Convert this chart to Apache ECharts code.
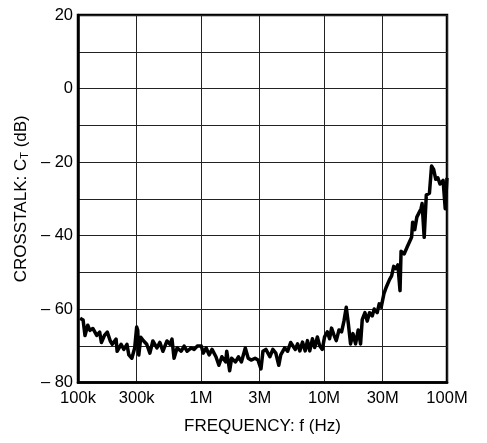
<!DOCTYPE html>
<html>
<head>
<meta charset="utf-8">
<script src="https://cdn.jsdelivr.net/npm/echarts@6/dist/echarts.min.js"></script>
<style>html,body{margin:0;padding:0;background:#fff}#c{width:487px;height:443px}</style>
</head>
<body>
<div id="c"></div>
<script>
// Frequency (Hz) and crosstalk (dB)
const freqHz = [
  104e3,110e3,114e3,120e3,125e3,132e3,142e3,150e3,155e3,164e3,173e3,183e3,190e3,204e3,208e3,224e3,236e3,250e3,259e3,274e3,289e3,
  300e3,306e3,312e3,324e3,342e3,362e3,384e3,406e3,438e3,463e3,490e3,529e3,560e3,581e3,604e3,639e3,689e3,729e3,772e3,833e3,881e3,932e3,
  1.006e6,1.043e6,1.102e6,1.164e6,1.230e6,1.323e6,1.398e6,1.477e6,1.589e6,1.619e6,1.710e6,1.774e6,1.908e6,2.016e6,2.130e6,2.292e6,2.421e6,2.557e6,2.752e6,2.908e6,
  3.073e6,3.189e6,3.371e6,3.630e6,3.837e6,4.056e6,4.290e6,4.451e6,4.792e6,5.066e6,5.356e6,
  5.558e6,5.842e6,6.097e6,6.362e6,6.688e6,7.032e6,7.339e6,7.659e6,8.051e6,8.401e6,8.831e6,9.215e6,9.687e6,
  10.11e6,10.64e6,11.10e6,11.52e6,12.06e6,12.58e6,13.24e6,13.90e6,14.53e6,15.17e6,15.75e6,16.44e6,17.20e6,18.05e6,18.98e6,19.83e6,
  20.46e6,21.52e6,22.46e6,23.45e6,24.66e6,25.60e6,27.07e6,28.11e6,29.18e6,
  30.72e6,32.13e6,34.09e6,35.46e6,36.88e6,38.36e6,39.89e6,41.50e6,42.32e6,44.89e6,47.63e6,51.53e6,52.55e6,54.66e6,56.85e6,
  61.52e6,62.74e6,65.25e6,67.87e6,69.21e6,71.99e6,74.88e6,77.89e6,81.01e6,84.26e6,87.66e6,92.98e6,96.72e6,100e6
];
const crosstalkDb = [
  -62.5,-63.0,-67.2,-64.4,-65.8,-65.3,-67.2,-66.3,-69.1,-67.2,-66.3,-68.7,-69.6,-68.2,-71.5,-69.6,-71.0,-69.6,-72.5,-73.4,-70.6,
  -64.9,-65.8,-72.5,-67.7,-68.7,-69.6,-72.0,-68.7,-70.6,-69.1,-71.5,-68.7,-69.6,-68.2,-73.4,-70.6,-71.5,-70.1,-71.5,-70.6,-71.0,-70.1,
  -70.1,-72.0,-70.6,-72.5,-71.0,-73.0,-75.3,-73.0,-74.4,-71.5,-76.8,-73.4,-74.4,-73.0,-74.4,-70.6,-73.4,-73.9,-73.4,-73.9,
  -76.3,-71.5,-71.0,-73.0,-71.0,-72.0,-75.3,-72.5,-70.6,-71.5,-69.1,
  -69.5,-71.0,-69.5,-71.4,-69.0,-71.4,-68.6,-71.4,-68.1,-70.5,-67.6,-70.0,-71.0,
  -67.6,-66.2,-68.1,-65.2,-67.1,-68.6,-65.7,-66.2,-63.3,-59.5,-63.8,-69.5,-66.7,-69.5,-65.7,-69.5,
  -62.9,-61.0,-63.3,-61.0,-61.9,-60.0,-61.0,-58.6,-59.5,
  -55.8,-54.0,-52.0,-51.0,-48.4,-49.0,-48.0,-55.0,-44.3,-45.0,-43.0,-40.5,-36.4,-38.4,-35.0,
  -32.7,-31.3,-40.5,-29.0,-29.5,-28.5,-21.1,-22.0,-24.7,-24.3,-26.0,-25.0,-32.7,-24.3
];
const xTickValues = [1e5, 3e5, 1e6, 3e6, 1e7, 3e7, 1e8];
const xTickLabels = ['100k', '300k', '1M', '3M', '10M', '30M', '100M'];
const yMin = -80, yMax = 20, yStep = 10, yLabelStep = 20;

const points = freqHz.map((f, i) => [f, crosstalkDb[i]]);
const FONT = 'Liberation Sans';

const chart = echarts.init(document.getElementById('c'), null, {renderer: 'canvas'});
chart.setOption({
  animation: false,
  backgroundColor: '#fff',
  grid: {left: 78, right: 40, top: 15, bottom: 60.5, show: true, borderColor: '#000', borderWidth: 2.5, backgroundColor: 'transparent'},
  xAxis: {
    type: 'log', logBase: 10, min: 1e5, max: 1e8,
    name: 'FREQUENCY: f (Hz)', nameLocation: 'middle', nameGap: 35,
    nameTextStyle: {fontFamily: FONT, fontSize: 17, color: '#000'},
    axisLine: {show: true, onZero: false, lineStyle: {color: '#000', width: 2.5}},
    axisTick: {show: false, customValues: xTickValues},
    axisLabel: {
      customValues: xTickValues,
      fontFamily: FONT, fontSize: 16.5, color: '#000', margin: 7,
      formatter: function (v) {
        for (let i = 0; i < xTickValues.length; i++) {
          if (Math.abs(Math.log10(v) - Math.log10(xTickValues[i])) < 1e-6) return xTickLabels[i];
        }
        return '';
      }
    },
    splitLine: {show: true, lineStyle: {color: '#222', width: 1}},
    minorTick: {show: false}
  },
  yAxis: {
    type: 'value', min: yMin, max: yMax, interval: yStep,
    name: 'CROSSTALK: C{sub|T} (dB)', nameLocation: 'middle', nameGap: 44, nameRotate: 90,
    nameTextStyle: {fontFamily: FONT, fontSize: 17, color: '#000', rich: {sub: {fontFamily: FONT, fontSize: 11, color: '#000', verticalAlign: 'bottom', padding: [5, 0, 0, 0]}}},
    axisLine: {show: true, onZero: false, lineStyle: {color: '#000', width: 2.5}},
    axisTick: {show: false},
    axisLabel: {
      fontFamily: FONT, fontSize: 16.5, color: '#000', margin: 5,
      formatter: function (v) {
        if (Math.round(v) % yLabelStep !== 0) return '';
        return v < 0 ? '\u2013 ' + Math.abs(v) : String(v);
      }
    },
    splitLine: {show: true, lineStyle: {color: '#222', width: 1}}
  },
  series: [{
    type: 'line', data: points, symbol: 'none', smooth: false,
    lineStyle: {color: '#000', width: 3.5, join: 'round'},
    clip: true
  }]
});
</script>
</body>
</html>
